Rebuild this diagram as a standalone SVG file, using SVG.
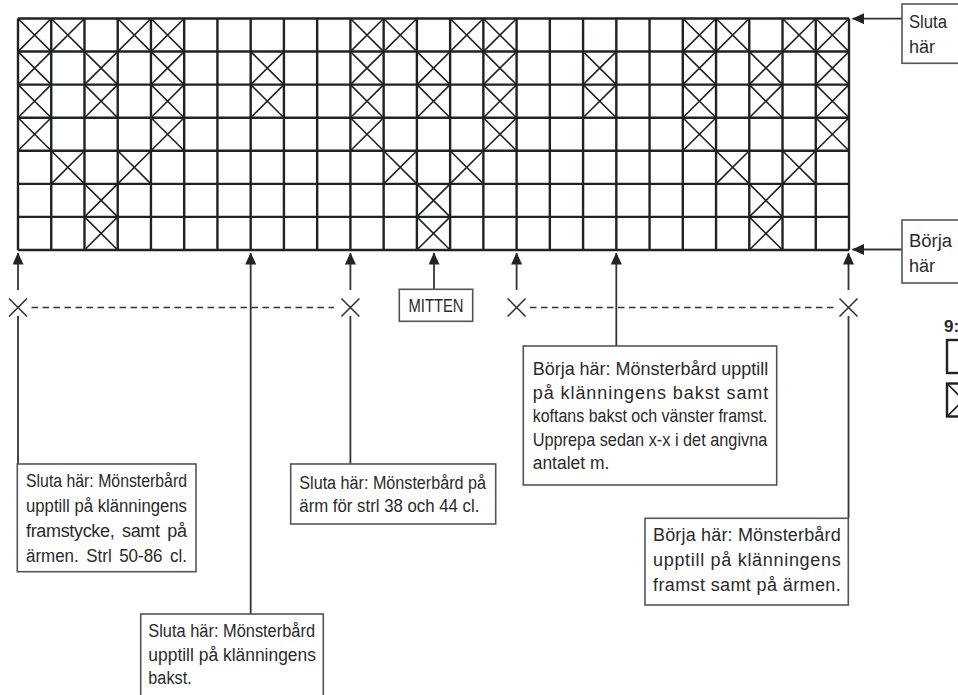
<svg xmlns="http://www.w3.org/2000/svg" width="958" height="695" viewBox="0 0 958 695">
<style>
.grid{fill:none;stroke:#1f2321;stroke-width:2.4}
.xc{fill:none;stroke:#1f2321;stroke-width:1.6}
.box{fill:#fff;stroke:#555;stroke-width:1.6}
.lbl{font-family:"Liberation Sans","Noto Sans",sans-serif;font-size:18px;fill:#2a2a2a}
.ln{fill:none;stroke:#333;stroke-width:1.8}
.dash{fill:none;stroke:#333;stroke-width:1.6;stroke-dasharray:6.5 4.5}
.mk{fill:none;stroke:#333;stroke-width:1.6}
</style>
<defs>
<path id="xcell" class="xc" d="M0,0L33.24,33.07M33.24,0L0,33.07"/>
<marker id="ah" viewBox="0 0 12 11" refX="11.5" refY="5.5" markerWidth="12" markerHeight="11" markerUnits="userSpaceOnUse" orient="auto">
<path d="M0,0L12,5.5L0,11z" fill="#222"/>
</marker>
</defs>

<g id="chart">
<path class="grid" d="M18,18.5V250M51.24,18.5V250M84.48,18.5V250M117.72,18.5V250M150.96,18.5V250M184.2,18.5V250M217.44,18.5V250M250.68,18.5V250M283.92,18.5V250M317.16,18.5V250M350.4,18.5V250M383.64,18.5V250M416.88,18.5V250M450.12,18.5V250M483.36,18.5V250M516.6,18.5V250M549.84,18.5V250M583.08,18.5V250M616.32,18.5V250M649.56,18.5V250M682.8,18.5V250M716.04,18.5V250M749.28,18.5V250M782.52,18.5V250M815.76,18.5V250M849,18.5V250M18,18.5H849M18,51.57H849M18,84.64H849M18,117.71H849M18,150.78H849M18,183.85H849M18,216.92H849M18,250H849"/>
<g id="crosses">
<use href="#xcell" x="18" y="18.5"/><use href="#xcell" x="51.24" y="18.5"/><use href="#xcell" x="117.72" y="18.5"/><use href="#xcell" x="150.96" y="18.5"/>
<use href="#xcell" x="350.4" y="18.5"/><use href="#xcell" x="383.64" y="18.5"/><use href="#xcell" x="450.12" y="18.5"/><use href="#xcell" x="483.36" y="18.5"/>
<use href="#xcell" x="682.8" y="18.5"/><use href="#xcell" x="716.04" y="18.5"/><use href="#xcell" x="782.52" y="18.5"/><use href="#xcell" x="815.76" y="18.5"/>

<use href="#xcell" x="18" y="51.57"/><use href="#xcell" x="84.48" y="51.57"/><use href="#xcell" x="150.96" y="51.57"/><use href="#xcell" x="250.68" y="51.57"/>
<use href="#xcell" x="350.4" y="51.57"/><use href="#xcell" x="416.88" y="51.57"/><use href="#xcell" x="483.36" y="51.57"/><use href="#xcell" x="583.08" y="51.57"/>
<use href="#xcell" x="682.8" y="51.57"/><use href="#xcell" x="749.28" y="51.57"/><use href="#xcell" x="815.76" y="51.57"/>

<use href="#xcell" x="18" y="84.64"/><use href="#xcell" x="84.48" y="84.64"/><use href="#xcell" x="150.96" y="84.64"/><use href="#xcell" x="250.68" y="84.64"/>
<use href="#xcell" x="350.4" y="84.64"/><use href="#xcell" x="416.88" y="84.64"/><use href="#xcell" x="483.36" y="84.64"/><use href="#xcell" x="583.08" y="84.64"/>
<use href="#xcell" x="682.8" y="84.64"/><use href="#xcell" x="749.28" y="84.64"/><use href="#xcell" x="815.76" y="84.64"/>

<use href="#xcell" x="18" y="117.71"/><use href="#xcell" x="150.96" y="117.71"/><use href="#xcell" x="350.4" y="117.71"/><use href="#xcell" x="483.36" y="117.71"/>
<use href="#xcell" x="682.8" y="117.71"/><use href="#xcell" x="815.76" y="117.71"/>

<use href="#xcell" x="51.24" y="150.78"/><use href="#xcell" x="117.72" y="150.78"/><use href="#xcell" x="383.64" y="150.78"/><use href="#xcell" x="450.12" y="150.78"/>
<use href="#xcell" x="716.04" y="150.78"/><use href="#xcell" x="782.52" y="150.78"/>

<use href="#xcell" x="84.48" y="183.85"/><use href="#xcell" x="416.88" y="183.85"/><use href="#xcell" x="749.28" y="183.85"/>
<use href="#xcell" x="84.48" y="216.92"/><use href="#xcell" x="416.88" y="216.92"/><use href="#xcell" x="749.28" y="216.92"/>
</g>
</g>

<g id="connectors">
<line class="ln" x1="18" y1="290" x2="18" y2="253" marker-end="url(#ah)"/>
<line class="ln" x1="250.68" y1="614" x2="250.68" y2="253" marker-end="url(#ah)"/>
<line class="ln" x1="350.4" y1="290" x2="350.4" y2="253" marker-end="url(#ah)"/>
<line class="ln" x1="434" y1="289.3" x2="434" y2="253" marker-end="url(#ah)"/>
<line class="ln" x1="516.6" y1="290" x2="516.6" y2="253" marker-end="url(#ah)"/>
<line class="ln" x1="616.32" y1="346" x2="616.32" y2="253" marker-end="url(#ah)"/>
<line class="ln" x1="848.5" y1="290" x2="848.5" y2="253" marker-end="url(#ah)"/>
<line class="ln" x1="902" y1="18.7" x2="852.5" y2="18.7" marker-end="url(#ah)"/>
<line class="ln" x1="902" y1="249.5" x2="852.5" y2="249.5" marker-end="url(#ah)"/>
<line class="ln" x1="18" y1="316" x2="18" y2="464"/>
<line class="ln" x1="350.4" y1="316" x2="350.4" y2="464"/>
<line class="ln" x1="848.5" y1="316" x2="848.5" y2="518.3"/>
<line class="dash" x1="31.5" y1="307.5" x2="334" y2="307.5"/>
<line class="dash" x1="530" y1="307.5" x2="835" y2="307.5"/>
<path class="mk" d="M9,298.5L27,316.5M27,298.5L9,316.5"/>
<path class="mk" d="M341.4,298.5L359.4,316.5M359.4,298.5L341.4,316.5"/>
<path class="mk" d="M507.6,298.5L525.6,316.5M525.6,298.5L507.6,316.5"/>
<path class="mk" d="M839.5,298.5L857.5,316.5M857.5,298.5L839.5,316.5"/>
</g>

<g id="sluta-top">
<rect class="box" x="902" y="4" width="70" height="59.3"/>
<text class="lbl" font-size="20" x="909" y="28.3" textLength="38" lengthAdjust="spacingAndGlyphs">Sluta</text>
<text class="lbl" font-size="20" x="909" y="53.3">här</text>
</g>
<g id="borja-right">
<rect class="box" x="902" y="220" width="70" height="63"/>
<text class="lbl" font-size="20" x="909" y="246.5" textLength="43" lengthAdjust="spacingAndGlyphs">Börja</text>
<text class="lbl" font-size="20" x="909" y="271.5">här</text>
</g>

<g id="mitten">
<rect class="box" x="399.3" y="289.3" width="73.4" height="32"/>
<text class="lbl" x="436" y="312" text-anchor="middle" font-size="17" textLength="55" lengthAdjust="spacingAndGlyphs">MITTEN</text>
</g>

<g id="box-framstycke">
<rect class="box" x="17.3" y="464" width="178.7" height="107.7"/>
<text class="lbl" x="26" y="486.7" textLength="161" lengthAdjust="spacingAndGlyphs">Sluta här: Mönsterbård</text>
<text class="lbl" x="26" y="511.7" textLength="161" lengthAdjust="spacingAndGlyphs">upptill på klänningens</text>
<text class="lbl" x="26" y="536.7" textLength="161" lengthAdjust="spacing" word-spacing="3">framstycke, samt på</text>
<text class="lbl" x="26" y="561.7" textLength="161" lengthAdjust="spacingAndGlyphs" word-spacing="3">ärmen. Strl 50-86 cl.</text>
</g>

<g id="box-bakst">
<rect class="box" x="140.7" y="614" width="182.6" height="90"/>
<text class="lbl" x="148.3" y="636.7" textLength="166.7" lengthAdjust="spacingAndGlyphs">Sluta här: Mönsterbård</text>
<text class="lbl" x="148.3" y="660.7" textLength="167.7" lengthAdjust="spacingAndGlyphs">upptill på klänningens</text>
<text class="lbl" x="148.3" y="684.3" textLength="43.4" lengthAdjust="spacingAndGlyphs">bakst.</text>
</g>

<g id="box-arm">
<rect class="box" x="290.7" y="464" width="205" height="60"/>
<text class="lbl" x="299.3" y="488.5" textLength="186.7" lengthAdjust="spacingAndGlyphs">Sluta här: Mönsterbård på</text>
<text class="lbl" x="299.3" y="512" textLength="180" lengthAdjust="spacingAndGlyphs">ärm för strl 38 och 44 cl.</text>
</g>

<g id="box-borja-bakst">
<rect class="box" x="523.3" y="346" width="253.4" height="139"/>
<text class="lbl" x="532.7" y="375" textLength="235.6" lengthAdjust="spacingAndGlyphs">Börja här: Mönsterbård upptill</text>
<text class="lbl" x="532.7" y="398.5" textLength="235.6" lengthAdjust="spacing">på klänningens bakst samt</text>
<text class="lbl" x="532.7" y="422" textLength="234.6" lengthAdjust="spacingAndGlyphs">koftans bakst och vänster framst.</text>
<text class="lbl" x="532.7" y="445.5" textLength="234.6" lengthAdjust="spacingAndGlyphs">Upprepa sedan x-x i det angivna</text>
<text class="lbl" x="532.7" y="469" textLength="76.6" lengthAdjust="spacingAndGlyphs">antalet m.</text>
</g>

<g id="box-borja-framst">
<rect class="box" x="645" y="518.3" width="203.3" height="86.7"/>
<text class="lbl" x="653" y="540.5" textLength="187.7" lengthAdjust="spacing">Börja här: Mönsterbård</text>
<text class="lbl" x="653" y="565.5" textLength="187.7" lengthAdjust="spacing">upptill på klänningens</text>
<text class="lbl" x="653" y="590.5" textLength="187.7" lengthAdjust="spacing">framst samt på ärmen.</text>
</g>

<g id="legend">
<text x="944" y="331.5" font-family="Liberation Sans, sans-serif" font-size="17" font-weight="bold" fill="#2a2a2a">9:</text>
<rect class="grid" x="947" y="340" width="33" height="33"/>
<rect class="grid" x="947" y="383.5" width="33" height="33"/>
<path class="xc" d="M947,383.5L980,416.5M980,383.5L947,416.5"/>
</g>
</svg>
